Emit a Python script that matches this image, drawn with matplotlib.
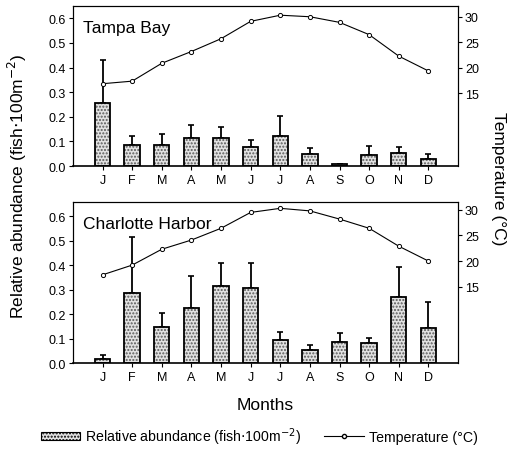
import matplotlib
matplotlib.use("Agg")
import matplotlib.pyplot as plt
from matplotlib.patches import Patch
from matplotlib.lines import Line2D
import numpy as np

plt.rcParams['font.family'] = ['Liberation Sans', 'DejaVu Sans']

months = ['J', 'F', 'M', 'A', 'M', 'J', 'J', 'A', 'S', 'O', 'N', 'D']

# Tampa Bay
tb_abund = [0.254, 0.085, 0.084, 0.114, 0.114, 0.078, 0.122, 0.048, 0.010, 0.046, 0.054, 0.030]
tb_upper = [0.430, 0.120, 0.132, 0.168, 0.157, 0.105, 0.203, 0.075, 0.010, 0.081, 0.079, 0.048]
tb_temp = [16.9, 17.4, 20.9, 23.2, 25.7, 29.1, 30.3, 30.0, 28.9, 26.5, 22.3, 19.4]

# Charlotte Harbor
ch_abund = [0.018, 0.287, 0.147, 0.227, 0.316, 0.309, 0.096, 0.055, 0.088, 0.082, 0.272, 0.144]
ch_upper = [0.035, 0.517, 0.204, 0.355, 0.410, 0.410, 0.129, 0.076, 0.124, 0.104, 0.395, 0.249]
ch_temp = [17.3, 19.2, 22.3, 24.1, 26.4, 29.5, 30.3, 29.8, 28.2, 26.4, 22.9, 20.0]

panels = [
    dict(name='Tampa Bay', abund=tb_abund, upper=tb_upper, temp=tb_temp,
         rect=[0.143, 0.6305, 0.755, 0.354], ylim=(0, 0.65), tlim=(0.8, 32.1)),
    dict(name='Charlotte Harbor', abund=ch_abund, upper=ch_upper, temp=ch_temp,
         rect=[0.143, 0.194, 0.755, 0.3576], ylim=(0, 0.66), tlim=(0.0, 31.6)),
]

fig = plt.figure(figsize=(5.10, 4.52), dpi=100)

x = np.arange(1, 13)
bar_w = 0.52
fill_col = '#e2e2e2'
dot_col = '#5a5a5a'

for p in panels:
    ax = fig.add_axes(p['rect'])
    abund = np.array(p['abund'])
    upper = np.array(p['upper'])
    # stippled fill
    ax.bar(x, abund, width=bar_w, color=fill_col, edgecolor=dot_col,
           hatch='.....', linewidth=0, zorder=2)
    # outline
    ax.bar(x, abund, width=bar_w, fill=False, edgecolor='black',
           linewidth=1.3, zorder=3)
    err = np.vstack([np.zeros_like(abund), upper - abund])
    ax.errorbar(x, abund, yerr=err, fmt='none', ecolor='black',
                elinewidth=1.3, capsize=2, capthick=1.2, zorder=1)
    ax.set_xlim(0, 13)
    ax.set_ylim(*p['ylim'])
    ax.set_yticks([0.0, 0.1, 0.2, 0.3, 0.4, 0.5, 0.6])
    ax.set_yticklabels(['%.1f' % v for v in [0.0, 0.1, 0.2, 0.3, 0.4, 0.5, 0.6]])
    ax.set_xticks(x)
    ax.set_xticklabels(months)
    ax.tick_params(axis='both', direction='out', length=3, width=0.8,
                   labelsize=9, pad=2)
    ax.tick_params(axis='x', pad=2.5)
    for s in ['left', 'right', 'top']:
        ax.spines[s].set_linewidth(0.8)
    ax.spines['bottom'].set_linewidth(1.2)
    ax.text(0.027, 0.865, p['name'], transform=ax.transAxes, fontsize=12.5,
            ha='left', va='center')

    ax2 = ax.twinx()
    ax2.plot(x, p['temp'], color='black', linewidth=0.8, marker='o',
             markersize=3, markerfacecolor='white', markeredgecolor='black',
             markeredgewidth=0.7, zorder=4)
    ax2.set_ylim(*p['tlim'])
    ax2.set_yticks([15, 20, 25, 30])
    ax2.tick_params(axis='y', direction='out', length=3, width=0.8,
                    labelsize=9, pad=2)
    for s in ['left', 'right', 'top', 'bottom']:
        ax2.spines[s].set_linewidth(0.8)
    ax2.spines['bottom'].set_visible(False)

fig.text(0.035, 0.589, 'Relative abundance (fish$\\cdot$100m$^{-2}$)',
         rotation=90, ha='center', va='center', fontsize=12.5)
fig.text(0.978, 0.605, 'Temperature (\u00b0C)', rotation=-90,
         ha='center', va='center', fontsize=12.5)
fig.text(0.52, 1 - 406 / 452, 'Months', ha='center', va='center', fontsize=12.5)

handles = [
    Patch(facecolor=fill_col, edgecolor='black', hatch='.....', linewidth=0.8,
          label='Relative abundance (fish$\\cdot$100m$^{-2}$)'),
    Line2D([], [], color='black', linewidth=0.8, marker='o', markersize=3,
           markerfacecolor='white', markeredgecolor='black',
           label='Temperature (\u00b0C)'),
]
fig.legend(handles=handles, loc='center', bbox_to_anchor=(0.508, 1 - 437 / 452),
           ncol=2, frameon=False, fontsize=10.2, handlelength=2.8,
           handleheight=0.5, columnspacing=1.6, handletextpad=0.35)

fig.savefig('out.png', dpi=100)
